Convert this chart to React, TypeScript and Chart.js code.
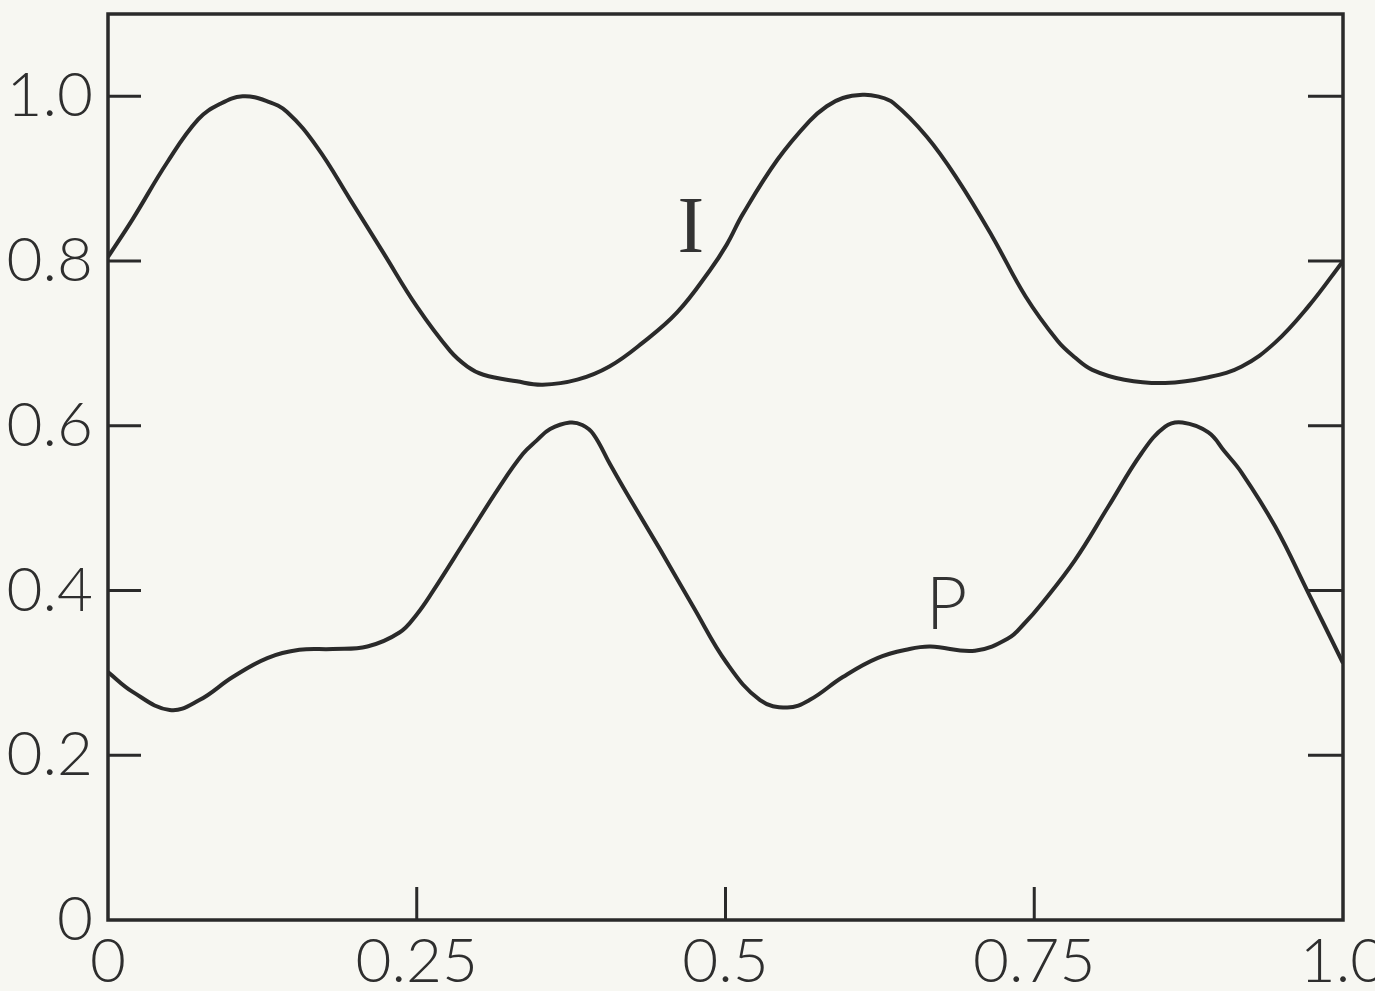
import React, { useEffect, useRef } from "react";
import { Chart, registerables } from "chart.js";
Chart.register(...registerables);

// Curve I
const iX = [0, 0.02, 0.048, 0.073, 0.091, 0.109, 0.129, 0.145, 0.169, 0.196, 0.223, 0.25, 0.277, 0.291, 0.304, 0.331, 0.352, 0.38, 0.406, 0.433, 0.461, 0.487, 0.501, 0.514, 0.542, 0.568, 0.582, 0.595, 0.611, 0.623, 0.636, 0.663, 0.688, 0.716, 0.743, 0.769, 0.783, 0.797, 0.823, 0.856, 0.891, 0.918, 0.945, 0.972, 1.0];
const iY = [0.805, 0.851, 0.92, 0.972, 0.991, 1.0, 0.994, 0.981, 0.939, 0.875, 0.81, 0.745, 0.691, 0.672, 0.662, 0.654, 0.65, 0.656, 0.672, 0.701, 0.738, 0.788, 0.82, 0.857, 0.923, 0.97, 0.988, 0.998, 1.002, 1.0, 0.992, 0.951, 0.899, 0.83, 0.757, 0.703, 0.683, 0.668, 0.656, 0.652, 0.659, 0.672, 0.701, 0.745, 0.8];

// Curve P
const pX = [0, 0.02, 0.05, 0.074, 0.101, 0.129, 0.155, 0.182, 0.21, 0.236, 0.25, 0.263, 0.291, 0.317, 0.336, 0.347, 0.358, 0.374, 0.384, 0.393, 0.407, 0.42, 0.447, 0.474, 0.501, 0.528, 0.55, 0.568, 0.595, 0.623, 0.649, 0.666, 0.702, 0.729, 0.742, 0.756, 0.783, 0.81, 0.837, 0.856, 0.87, 0.891, 0.904, 0.918, 0.945, 0.972, 1.0];
const pY = [0.301, 0.277, 0.255, 0.267, 0.295, 0.318, 0.328, 0.329, 0.332, 0.349, 0.371, 0.399, 0.465, 0.526, 0.566, 0.582, 0.596, 0.604, 0.601, 0.59, 0.552, 0.518, 0.45, 0.38, 0.312, 0.267, 0.258, 0.267, 0.295, 0.318, 0.329, 0.332, 0.327, 0.342, 0.36, 0.384, 0.437, 0.502, 0.567, 0.599, 0.604, 0.592, 0.569, 0.543, 0.478, 0.397, 0.312];

const xTickValues = [0, 0.25, 0.5, 0.75, 1.0];
const xTickLabels = ["0", "0.25", "0.5", "0.75", "1.0"];
const yTickValues = [0, 0.2, 0.4, 0.6, 0.8, 1.0];
const yTickLabels = ["0", "0.2", "0.4", "0.6", "0.8", "1.0"];

const curveLabels = [
  { text: "I", x: 0.472, y: 0.836, serif: true },
  { text: "P", x: 0.679, y: 0.382, serif: false },
];

const INK = "#2a2a2a";
const BG = "#f7f7f2";

const framePlugin = {
  id: "frame",
  beforeDraw(chart: any) {
    const ctx = chart.ctx;
    ctx.save();
    ctx.fillStyle = BG;
    ctx.fillRect(0, 0, chart.width, chart.height);
    ctx.restore();
  },
  afterDraw(chart: any) {
    const ctx = chart.ctx;
    const { left, right, top, bottom } = chart.chartArea;
    const xs = chart.scales.x;
    const ys = chart.scales.y;
    ctx.save();
    ctx.strokeStyle = INK;
    ctx.lineWidth = 3.5;
    ctx.strokeRect(left, top, right - left, bottom - top);
    ctx.lineWidth = 3;
    ctx.beginPath();
    yTickValues.forEach((v) => {
      if (v === 0) return;
      const py = ys.getPixelForValue(v);
      ctx.moveTo(left, py);
      ctx.lineTo(left + 33, py);
      ctx.moveTo(right, py);
      ctx.lineTo(right - 35, py);
    });
    xTickValues.forEach((v) => {
      if (v === 0 || v === 1) return;
      const px = xs.getPixelForValue(v);
      ctx.moveTo(px, bottom);
      ctx.lineTo(px, bottom - 33);
    });
    ctx.stroke();
    ctx.fillStyle = "#333";
    ctx.textAlign = "center";
    ctx.textBaseline = "middle";
    curveLabels.forEach((l) => {
      ctx.font = l.serif
        ? "400 80px 'Liberation Serif', 'DejaVu Serif', serif"
        : "300 72px Lato, 'Liberation Sans', sans-serif";
      ctx.fillText(l.text, xs.getPixelForValue(l.x), ys.getPixelForValue(l.y));
    });
    ctx.restore();
  },
};

export default function App() {
  const ref = useRef<HTMLCanvasElement>(null);
  useEffect(() => {
    if (!ref.current) return;
    const tickFont = { family: "Lato, 'Liberation Sans', sans-serif", size: 62, weight: 300 as any, lineHeight: 1 };
    const lineStyle = {
      borderColor: INK,
      borderWidth: 4,
      pointRadius: 0,
      tension: 0.4,
      fill: false,
    };
    const chart = new Chart(ref.current, {
      type: "line",
      data: {
        datasets: [
          { label: "I", data: iX.map((x, k) => ({ x, y: iY[k] })), ...lineStyle },
          { label: "P", data: pX.map((x, k) => ({ x, y: pY[k] })), ...lineStyle },
        ],
      },
      options: {
        animation: false,
        responsive: false,
        layout: { padding: { top: 14, right: 32, left: 0, bottom: 0 } },
        plugins: { legend: { display: false }, tooltip: { enabled: false } },
        scales: {
          x: {
            type: "linear",
            min: 0,
            max: 1,
            grid: { display: false, drawTicks: false },
            border: { display: false },
            afterBuildTicks: (s: any) => {
              s.ticks = xTickValues.map((value) => ({ value }));
            },
            afterFit: (s: any) => {
              s.height = 71;
              s.paddingLeft = 0;
              s.paddingRight = 0;
            },
            ticks: {
              font: tickFont,
              color: "#2e2e2e",
              padding: 11,
              maxRotation: 0,
              autoSkip: false,
              callback: (v: any) => xTickLabels[xTickValues.indexOf(Number(v))] ?? "",
            },
          },
          y: {
            type: "linear",
            min: 0,
            max: 1.1,
            grid: { display: false, drawTicks: false },
            border: { display: false },
            afterBuildTicks: (s: any) => {
              s.ticks = yTickValues.map((value) => ({ value }));
            },
            afterFit: (s: any) => {
              s.width = 108;
              s.paddingTop = 0;
              s.paddingBottom = 0;
            },
            ticks: {
              font: tickFont,
              color: "#2e2e2e",
              padding: 15,
              autoSkip: false,
              callback: (v: any) => yTickLabels[yTickValues.indexOf(Number(v))] ?? "",
            },
          },
        },
      },
      plugins: [framePlugin],
    } as any);
    return () => chart.destroy();
  }, []);
  return (
    <div style={{ position: "absolute", left: 0, top: 0, width: 1375, height: 991, background: BG }}>
      <canvas ref={ref} width={1375} height={991} style={{ width: 1375, height: 991, display: "block" }} />
    </div>
  );
}
